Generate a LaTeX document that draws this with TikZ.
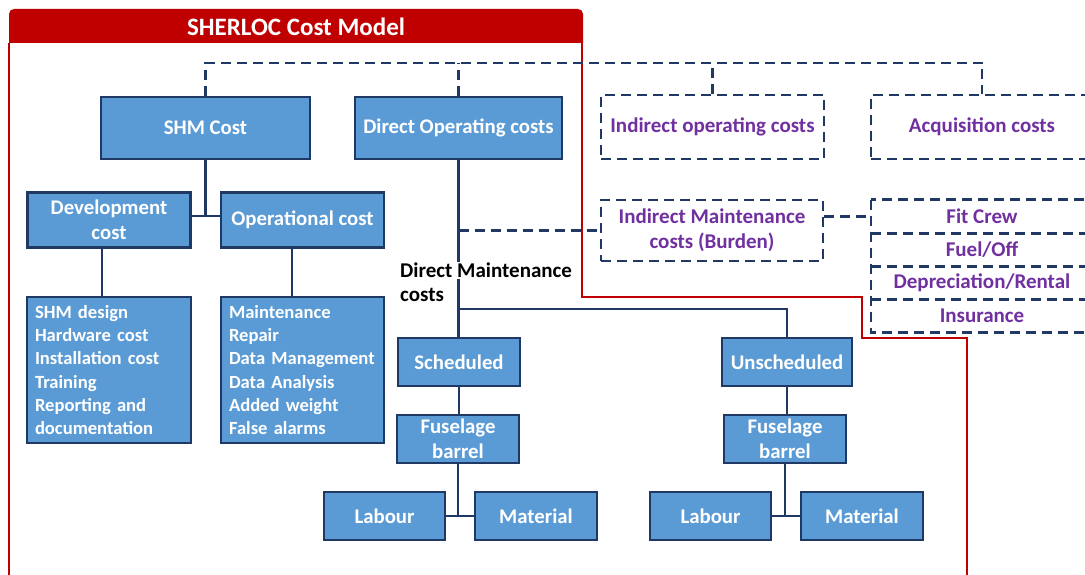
\documentclass[tikz,border=0pt]{standalone}
\usepackage{fontspec}
\setmainfont{Carlito}
\definecolor{navy}{RGB}{31,56,100}
\definecolor{boxblue}{RGB}{91,155,213}
\definecolor{redc}{RGB}{192,0,0}
\definecolor{purp}{RGB}{112,48,160}
\begin{document}
\begin{tikzpicture}[x=1pt,y=-1pt,
  bx/.style={draw=navy, line width=2.3pt, fill=boxblue, text=white, font=\fontsize{20.8}{25}\selectfont\bfseries, align=center, inner sep=0pt},
  lst/.style={bx, font=\fontsize{18.6}{23.2}\selectfont\bfseries, align=left},
  dbx/.style={draw=navy, line width=2.6pt, dash pattern=on 10pt off 6pt, text=purp, font=\fontsize{21}{25}\selectfont\bfseries, align=center, inner sep=0pt},
  stk/.style={text=purp, font=\fontsize{21}{24}\selectfont\bfseries, inner sep=0pt, minimum width=222pt, minimum height=33pt},
  ln/.style={navy, line width=2.4pt},
  dl/.style={navy, line width=2.6pt, dash pattern=on 10pt off 6pt},
  rl/.style={redc, line width=2.4pt},
  dml/.style={text=black, font=\fontsize{21}{25}\selectfont\bfseries, inner sep=1pt}
]
\useasboundingbox (0,0) rectangle (1085,575);
% title bar
\fill[redc] (9,43) [rounded corners=5pt] -- (9,9) -- (583,9) [sharp corners] -- (583,43) -- cycle;
\node[text=white, font=\fontsize{25}{28}\selectfont\bfseries] (title) at (296,27) {SHERLOC Cost Model};
% red frame
\draw[rl] (9,43) -- (9,575);
\draw[rl] (582,43) -- (582,297) -- (862,297) -- (862,338) -- (967,338) -- (967,575);
% solid boxes
\node[bx, minimum width=209pt, minimum height=62pt] (shm) at (205.5,128) {SHM Cost};
\node[bx, minimum width=207pt, minimum height=62pt] (dop) at (458.5,128) {Direct Operating costs};
\node[bx, minimum width=163pt, minimum height=55pt] (dev) at (109,220) {Development\\cost};
\node[bx, minimum width=163pt, minimum height=55pt] (op) at (302.5,220) {Operational cost};
\node[lst, minimum width=164pt, minimum height=146pt, text width=148pt] (devl) at (109,370) {SHM design\\Hardware cost\\Installation cost\\Training\\Reporting and\\documentation};
\node[lst, minimum width=163pt, minimum height=146pt, text width=147pt] (opl) at (302.5,370) {Maintenance\\Repair\\Data Management\\Data Analysis\\Added weight\\False alarms};
\node[bx, minimum width=122pt, minimum height=48pt] (sch) at (459,362) {Scheduled};
\node[bx, minimum width=122pt, minimum height=48pt] (fus1) at (458,439) {Fuselage\\barrel};
\node[bx, minimum width=121pt, minimum height=48pt] (lab1) at (384.5,516) {Labour};
\node[bx, minimum width=122pt, minimum height=48pt] (mat1) at (536,516) {Material};
\node[bx, minimum width=130pt, minimum height=48pt] (uns) at (787,362) {Unscheduled};
\node[bx, minimum width=122pt, minimum height=48pt] (fus2) at (785,439) {Fuselage\\barrel};
\node[bx, minimum width=121pt, minimum height=48pt] (lab2) at (710.5,516) {Labour};
\node[bx, minimum width=122pt, minimum height=48pt] (mat2) at (862,516) {Material};
% dashed boxes
\node[dbx, minimum width=223pt, minimum height=64pt] (iop) at (712.5,127) {Indirect operating costs};
\node[dbx, minimum width=222pt, minimum height=64pt] (acq) at (982,127) {Acquisition costs};
\node[dbx, minimum width=222pt, minimum height=61pt] (imc) at (712,230.5) {Indirect Maintenance\\costs (Burden)};
% stack
\node[stk] (fc) at (982,216.5) {Fit Crew};
\node[stk] (fo) at (982,249.5) {Fuel/Off};
\node[stk] (dr) at (982,282.5) {Depreciation/Rental};
\node[stk] (ins) at (982,315.5) {Insurance};
\draw[dl] (fc.north west) rectangle (ins.south east);
\draw[dl] (fc.south west) -- (fc.south east);
\draw[dl] (fo.south west) -- (fo.south east);
\draw[dl] (dr.south west) -- (dr.south east);
% dashed connectors
\draw[dl] (shm.north) -- ++(0,-33) coordinate (b1) -| (acq.north);
\draw[dl] (dop.north) -- (dop.north |- b1);
\draw[dl] (iop.north) -- (iop.north |- b1);
\draw[dl] (dop.south |- imc.west) -- (imc.west);
\draw[dl] (imc.east |- fc.west) -- (fc.west);
% solid connectors
\draw[ln] (shm.south) -- ++(0,56) coordinate (j1);
\draw[ln] (dev.east |- j1) -- (op.west |- j1);
\draw[ln] (102,0 |- dev.south) -- (102,0 |- devl.north);
\draw[ln] (292,0 |- op.south) -- (292,0 |- opl.north);
\draw[ln] (dop.south) -- (dop.south |- sch.north);
\node[dml, fill=white, anchor=north west] (dm1) at (399,262) {Direct Maintenance};
\node[dml, anchor=north west] (dm2) at (399,287) {costs};
\draw[ln] (sch.north |- 0,309) -| (uns.north);
\draw[ln] (sch.south) -- (sch.south |- fus1.north);
\draw[ln] (fus1.south) -- (fus1.south |- lab1.east);
\draw[ln] (lab1.east) -- (mat1.west);
\draw[ln] (uns.south) -- (uns.south |- fus2.north);
\draw[ln] (fus2.south) -- (fus2.south |- lab2.east);
\draw[ln] (lab2.east) -- (mat2.west);
\end{tikzpicture}
\end{document}
